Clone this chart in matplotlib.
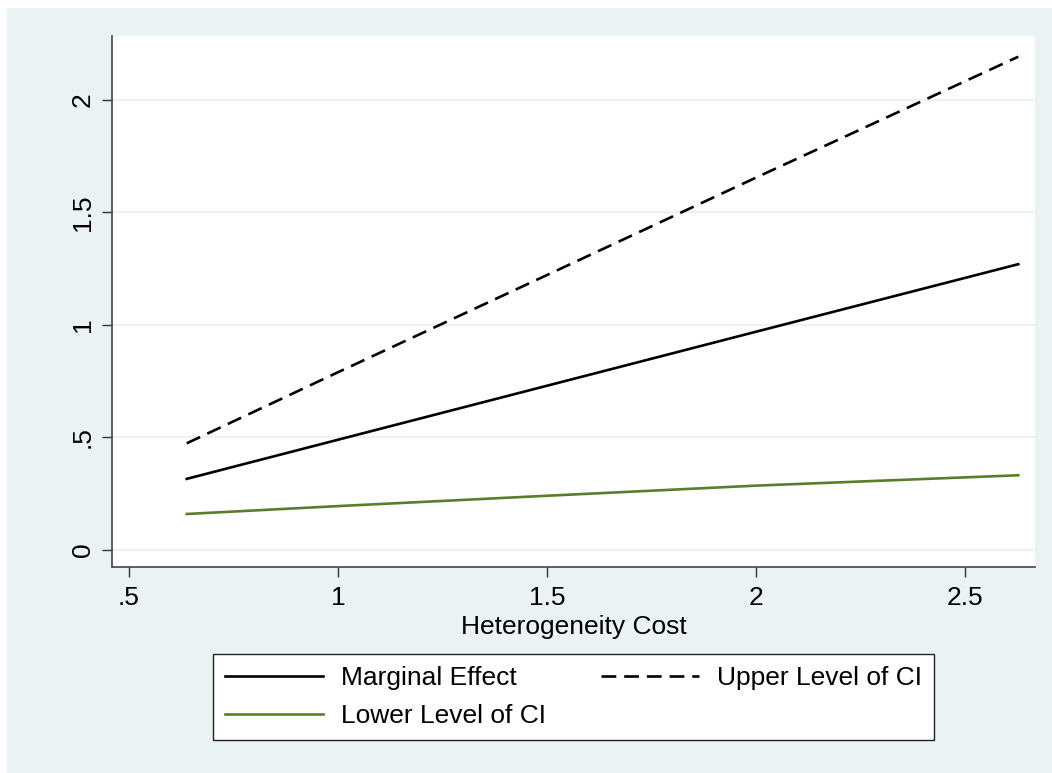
import matplotlib
matplotlib.use("Agg")
import matplotlib.pyplot as plt
from matplotlib.patches import Rectangle

# values (Stata marginal-effect plot)
het_cost = [0.638, 1.0, 1.5, 2.0, 2.627]
marginal = [0.316, 0.490, 0.730, 0.970, 1.270]
upper_ci = [0.474, 0.790, 1.222, 1.655, 2.192]
lower_ci = [0.160, 0.195, 0.241, 0.286, 0.332]

x_ticks = [0.5, 1.0, 1.5, 2.0, 2.5]
x_ticklabels = [".5", "1", "1.5", "2", "2.5"]
y_ticks = [0, 0.5, 1.0, 1.5, 2.0]
y_ticklabels = ["0", ".5", "1", "1.5", "2"]

BG = "#EAF2F3"   # stata ltbluishgray
GREEN = "#5A7D2C"
W, H = 1052, 773

plt.rcParams["font.family"] = ["Liberation Sans", "DejaVu Sans"]
plt.rcParams["font.size"] = 19

fig = plt.figure(figsize=(W / 100, H / 100), dpi=100, facecolor=BG)
# thin white strips on the left and top edges, as in the reference crop
fig.patches.append(Rectangle((0, 0), 7 / W, 1, transform=fig.transFigure,
                             facecolor="white", edgecolor="none", zorder=-5))
fig.patches.append(Rectangle((0, 1 - 8 / H), 1, 8 / H, transform=fig.transFigure,
                             facecolor="white", edgecolor="none", zorder=-5))

ax = fig.add_axes([112 / W, 1 - 567 / H, (1035 - 112) / W, (567 - 36) / H])
ax.set_facecolor("white")
ax.set_xlim(0.4593, 2.667)
ax.set_ylim(-0.0756, 2.284)

for yv in y_ticks:
    ax.axhline(yv, color=BG, lw=1.6, zorder=1)

ax.plot(het_cost, marginal, color="black", lw=1.9, label="Marginal Effect", zorder=3)
ax.plot(het_cost, upper_ci, color="black", lw=1.9, dashes=(5.6, 3.0),
        label="Upper Level of CI", zorder=3)
ax.plot(het_cost, lower_ci, color=GREEN, lw=1.9, label="Lower Level of CI", zorder=3)

for s in ("top", "right"):
    ax.spines[s].set_visible(False)
for s in ("left", "bottom"):
    ax.spines[s].set_color("#444444")
    ax.spines[s].set_linewidth(1.2)

ax.set_xticks(x_ticks, x_ticklabels)
ax.set_yticks(y_ticks, y_ticklabels)
ax.tick_params(axis="both", length=7.5, width=1.0, color="#333333")
ax.tick_params(axis="x", pad=6)
ax.tick_params(axis="y", pad=5)
for lab in ax.get_yticklabels():
    lab.set_rotation(90)
    lab.set_va("center")

fig.text(574 / W, 1 - 634 / H, "Heterogeneity Cost", ha="center", va="baseline")

handles, labels = ax.get_legend_handles_labels()
order = [0, 2, 1]  # column-wise fill: ME, Lower | Upper
leg = fig.legend([handles[i] for i in order], [labels[i] for i in order],
                 ncol=2, loc="upper left", mode="expand",
                 bbox_to_anchor=(213 / W, 1 - 740 / H, (934 - 213) / W, (740 - 654) / H),
                 frameon=True, fancybox=False, framealpha=1, facecolor="white",
                 borderpad=0.45, handlelength=3.7, handletextpad=0.7,
                 columnspacing=1.0, labelspacing=0.55, borderaxespad=0)
leg.get_frame().set_edgecolor("#222222")
leg.get_frame().set_linewidth(1.0)

fig.savefig("out.png", dpi=100, facecolor=BG)
